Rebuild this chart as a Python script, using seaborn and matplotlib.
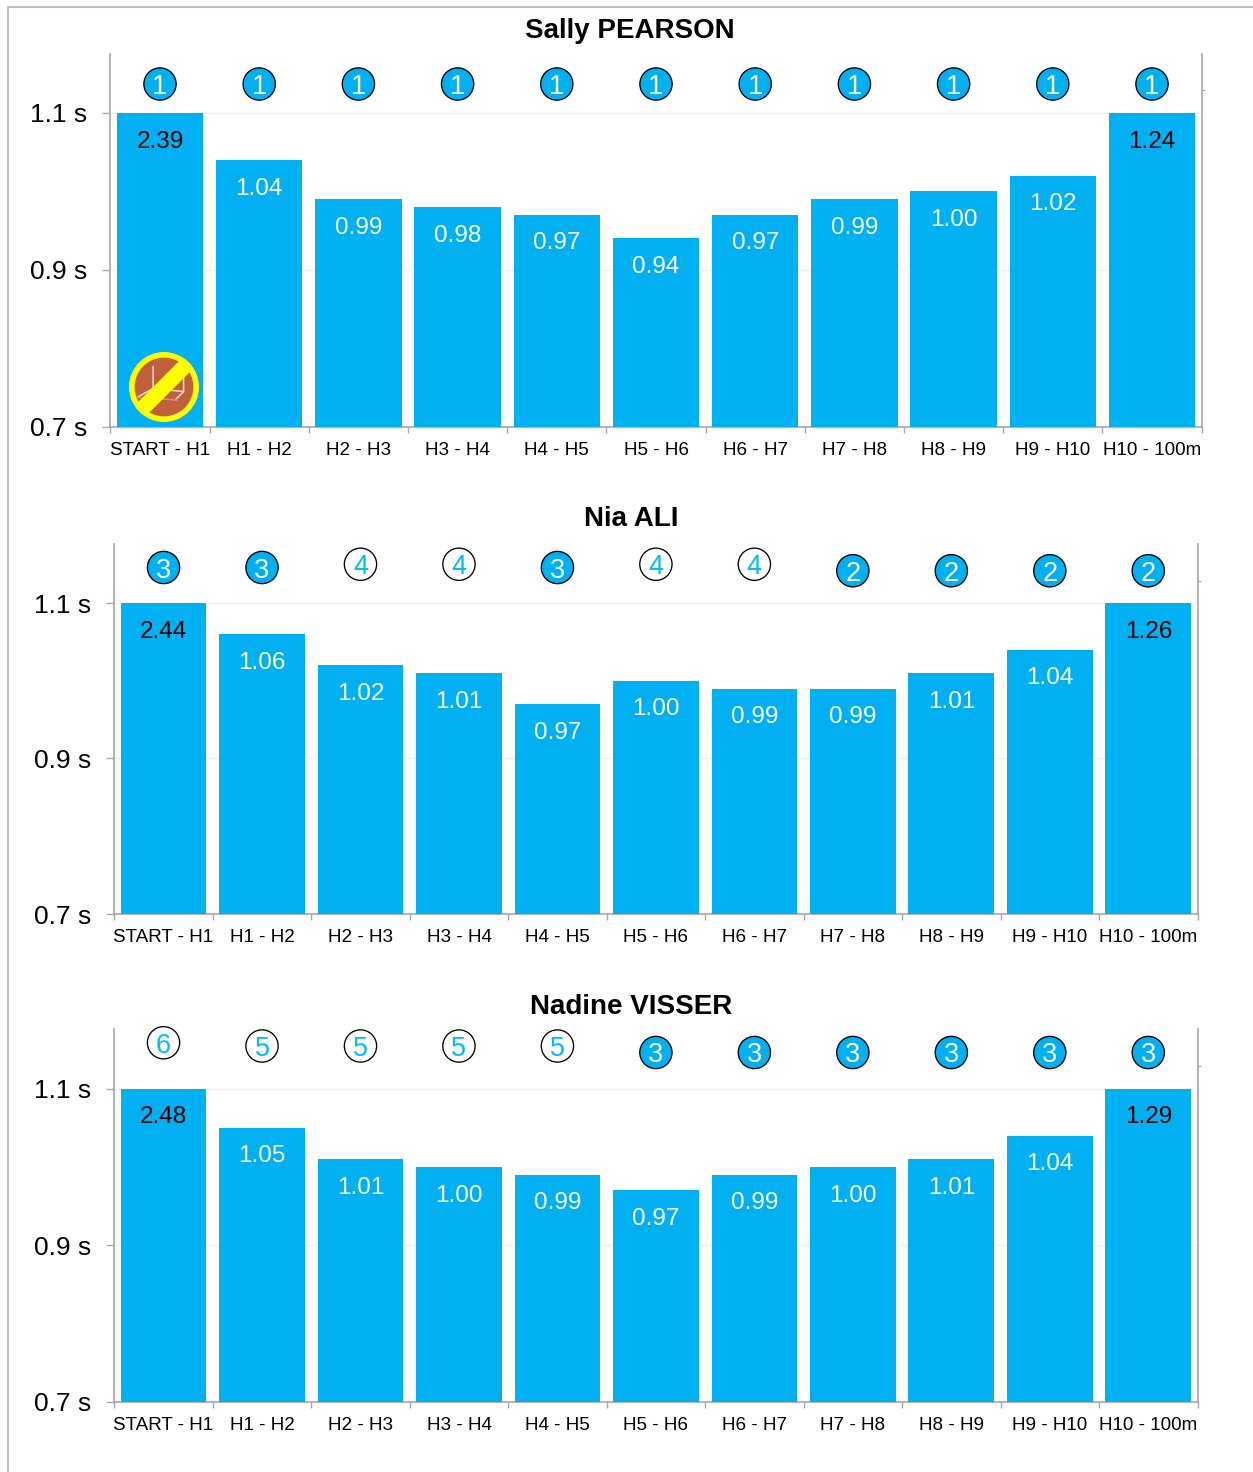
import numpy as np
import matplotlib.pyplot as plt
from matplotlib.lines import Line2D
from matplotlib.patches import Circle
import seaborn as sns

segments = ['START - H1', 'H1 - H2', 'H2 - H3', 'H3 - H4', 'H4 - H5', 'H5 - H6',
            'H6 - H7', 'H7 - H8', 'H8 - H9', 'H9 - H10', 'H10 - 100m']

names = ['Sally PEARSON', 'Nia ALI', 'Nadine VISSER']

pearson_times = [2.39, 1.04, 0.99, 0.98, 0.97, 0.94, 0.97, 0.99, 1.00, 1.02, 1.24]
ali_times = [2.44, 1.06, 1.02, 1.01, 0.97, 1.00, 0.99, 0.99, 1.01, 1.04, 1.26]
visser_times = [2.48, 1.05, 1.01, 1.00, 0.99, 0.97, 0.99, 1.00, 1.01, 1.04, 1.29]

pearson_ranks = [1, 1, 1, 1, 1, 1, 1, 1, 1, 1, 1]
ali_ranks = [3, 3, 4, 4, 3, 4, 4, 2, 2, 2, 2]
visser_ranks = [6, 5, 5, 5, 5, 3, 3, 3, 3, 3, 3]

y_ticks = [0.7, 0.9, 1.1]
y_cap = 1.1  # the first and last splits are cut off at the top of the scale

BLUE = '#00b0f0'
GRAY = '#a6a6a6'
W, H = 1253, 1472

sns.set_style('white')
plt.rcParams['font.family'] = ['Liberation Sans', 'DejaVu Sans']
plt.rcParams['text.color'] = 'black'
plt.rcParams['xtick.labelcolor'] = 'black'
plt.rcParams['ytick.labelcolor'] = 'black'


def px_rect(left, top, right, bottom):
    return [left / W, 1 - bottom / H, (right - left) / W, (bottom - top) / H]


def draw_panel(f, rect, y_top, rank_per_px, times, ranks):
    ax = f.add_axes(px_rect(*rect))
    x = np.arange(len(segments))
    sns.barplot(x=segments, y=np.minimum(times, y_cap), color=BLUE, saturation=1,
                width=0.87, linewidth=0, ax=ax, zorder=3)
    ax.set_xlim(-0.5, len(segments) - 0.5)
    ax.set_ylim(0.7, y_top)

    ax.set_yticks(y_ticks)
    ax.set_yticklabels(['%.1f s' % t for t in y_ticks], fontsize=19)
    ax.tick_params(axis='y', length=5.8, width=1, color=GRAY, pad=11, left=True)
    ax.set_xticks(x)
    ax.set_xticklabels(segments, fontsize=13.6)
    ax.set_xticks(np.arange(len(segments) + 1) - 0.5, minor=True)
    ax.tick_params(axis='x', which='major', length=0, pad=11)
    ax.tick_params(axis='x', which='minor', length=4, width=1, color=GRAY, bottom=True)
    ax.grid(axis='y', color='#f0f0f0', lw=1)
    ax.set_axisbelow(True)
    ax.set_xlabel('')
    ax.set_ylabel('')
    ax.spines['top'].set_visible(False)
    for s in ['left', 'right', 'bottom']:
        ax.spines[s].set_color(GRAY)
        ax.spines[s].set_linewidth(1.2)

    # split times sit just under the top of each bar
    for i, t in enumerate(times):
        c = 'black' if t > y_cap else 'white'
        ax.annotate('%.2f' % t, (i, min(t, y_cap)), xytext=(0, -20.6), textcoords='offset points',
                    ha='center', va='center', fontsize=17.5, color=c, zorder=5)

    # race position is a second series on a hidden right hand scale
    ax2 = ax.twinx()
    height = rect[3] - rect[1]
    rank_top = 1 + 30 * rank_per_px
    rank_bottom = rank_top - height * rank_per_px
    filled = [r <= 3 for r in ranks]
    sns.scatterplot(x=x, y=ranks, hue=filled, palette={True: BLUE, False: 'white'}, s=540,
                    edgecolor='black', linewidth=0.95, legend=False, ax=ax2, clip_on=False, zorder=6)
    for i, r in enumerate(ranks):
        c = 'white' if filled[i] else '#00bdf8'
        ax2.text(i, r, str(r), ha='center', va='center_baseline', fontsize=19.5, color=c, zorder=7)
    ax2.set_xlim(-0.5, len(segments) - 0.5)
    ax2.set_ylim(rank_bottom, rank_top)
    ax2.set_yticks([-1])
    ax2.set_yticklabels([''])
    ax2.tick_params(axis='y', right=True, length=2.5, width=0.8, color=GRAY)
    ax2.set_ylabel('')
    for s in ax2.spines.values():
        s.set_visible(False)
    return ax


def draw_hurdle_icon(f):
    ic = f.add_axes(px_rect(129, 352, 199, 422))
    ic.set_xlim(-1, 1)
    ic.set_ylim(-1, 1)
    ic.axis('off')
    ic.add_patch(Circle((0, 0), 1.0, fc='#ffff00', ec='none'))
    ic.add_patch(Circle((0, 0), 0.84, fc='#c0603c', ec='none'))
    ic.plot([-0.31, -0.31, -0.77], [0.58, -0.04, -0.3], color='#e8e0dc', lw=1.1)
    ic.plot([0.56, 0.56, 0.32], [0.39, -0.13, -0.37], color='#e8e0dc', lw=1.1)
    ic.plot([-0.31, 0.56], [-0.04, -0.13], color='#e8e0dc', lw=1.1)
    ic.plot([-0.77, 0.37], [-0.3, -0.37], color='#d98aa0', lw=1.1)
    ic.plot([-0.68, 0.68], [-0.68, 0.68], color='#ffff00', lw=11, solid_capstyle='butt')


f = plt.figure(figsize=(W / 100, H / 100), dpi=100)

rank_per_px = 1 / 3.25
scale_1 = 1.1 + 59 / 785
scale_2 = 1.1 + 59 / 777.5
scale_3 = 1.1 + 59.8 / 781.8

draw_panel(f, (110.4, 54, 1201.6, 426.5), scale_1, rank_per_px, pearson_times, pearson_ranks)
draw_panel(f, (114.3, 544, 1197.5, 914), scale_2, rank_per_px, ali_times, ali_ranks)
draw_panel(f, (114.3, 1029, 1197.5, 1401.5), scale_3, rank_per_px, visser_times, visser_ranks)
draw_hurdle_icon(f)

for name, tx, ty in zip(names, [630, 631, 631], [30.5, 518.5, 1006.5]):
    f.text(tx / W, 1 - ty / H, name, ha='center', va='center', fontsize=20, fontweight='bold')

# outer frame of the picture, only top and left are visible
f.add_artist(Line2D([8 / W, 8 / W, 1], [0, 1 - 7 / H, 1 - 7 / H], color='#bfbfbf', lw=1.5))

plt.savefig('out.png', dpi=100)
